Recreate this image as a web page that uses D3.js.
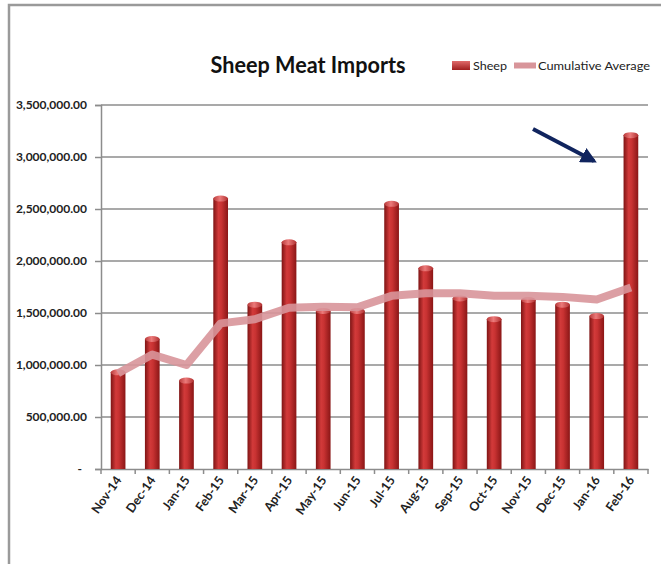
<!DOCTYPE html>
<html><head><meta charset="utf-8">
<script src="https://cdn.jsdelivr.net/npm/d3@7"></script>
<style>html,body{margin:0;padding:0;background:#fff;}svg{display:block;}</style>
</head><body>
<svg id="chart" width="661" height="564"></svg>
<script>
const categories = ["Nov-14","Dec-14","Jan-15","Feb-15","Mar-15","Apr-15","May-15","Jun-15","Jul-15","Aug-15","Sep-15","Oct-15","Nov-15","Dec-15","Jan-16","Feb-16"];
const sheep = [930000,1250000,850000,2600000,1580000,2180000,1520000,1520000,2550000,1930000,1640000,1440000,1625000,1580000,1470000,3210000];
const cumulativeAverage = [920000,1100000,1000000,1400000,1440000,1550000,1560000,1555000,1665000,1690000,1690000,1665000,1665000,1655000,1630000,1745000];
const yTicks = [0,500000,1000000,1500000,2000000,2500000,3000000,3500000];
const title = "Sheep Meat Imports";
const seriesNames = ["Sheep","Cumulative Average"];

const svg = d3.select("#chart");
const W = 661, H = 564;
const m = {left:101, right:13, top:105, bottom:95};
const x = d3.scaleBand().domain(categories).range([m.left, W - m.right]).paddingInner(0.57).paddingOuter(0.285);
const xb = d3.scaleBand().domain(categories).range([m.left, W - m.right]);
const y = d3.scaleLinear().domain([0,3500000]).range([H - m.bottom, m.top]);

const defs = svg.append("defs");
const g1 = defs.append("linearGradient").attr("id","barGrad").attr("x1","0").attr("x2","1").attr("y1","0").attr("y2","0");
[["0%","#7e1414"],["35%","#d23a3a"],["55%","#c83232"],["100%","#8a1616"]].forEach(s=>g1.append("stop").attr("offset",s[0]).attr("stop-color",s[1]));
const g2 = defs.append("linearGradient").attr("id","capGrad").attr("x1","0").attr("x2","1");
[["0%","#b83a3a"],["45%","#ec7a7a"],["100%","#b03030"]].forEach(s=>g2.append("stop").attr("offset",s[0]).attr("stop-color",s[1]));
const g3 = defs.append("linearGradient").attr("id","legGrad").attr("x1","0").attr("x2","0").attr("y1","0").attr("y2","1");
[["0%","#e06a6a"],["100%","#a01e1e"]].forEach(s=>g3.append("stop").attr("offset",s[0]).attr("stop-color",s[1]));
const mk = defs.append("marker").attr("id","arrowHead").attr("viewBox","0 0 10 10").attr("refX","8").attr("refY","5")
  .attr("markerWidth","4").attr("markerHeight","4").attr("orient","auto").attr("markerUnits","strokeWidth");
mk.append("path").attr("d","M0,0 L10,5 L0,10 z").attr("fill","#10245e");

// frame
svg.append("path").attr("d",`M9,${H} L9,5 L${W},5`).attr("fill","none").attr("stroke","#9a9a9a").attr("stroke-width",2.5);

// gridlines
svg.append("g").selectAll("line").data(yTicks.slice(1)).join("line")
  .attr("x1",m.left).attr("x2",W - m.right).attr("y1",d=>y(d)).attr("y2",d=>y(d))
  .attr("stroke","#8c8c8c").attr("stroke-width",1.5);

// y axis
const yAxis = d3.axisLeft(y).tickValues(yTicks).tickSize(6).tickPadding(8)
  .tickFormat(d => d === 0 ? "-" : d3.format(",.2f")(d));
const ya = svg.append("g").attr("transform",`translate(${m.left},0)`).call(yAxis);
ya.select(".domain").attr("stroke","#8c8c8c").attr("stroke-width",1.5);
ya.selectAll(".tick line").attr("stroke","#8c8c8c").attr("stroke-width",1.5);
ya.selectAll(".tick text").attr("font-family","Lato, 'Open Sans', sans-serif").attr("font-size",12).attr("font-weight","bold").attr("fill","#222");
ya.selectAll(".tick text").filter(d=>d===0).attr("dx",-5);

// x axis
const xAxis = d3.axisBottom(xb).tickSize(0).tickFormat("");
const xa = svg.append("g").attr("transform",`translate(0,${y(0)})`).call(xAxis);
xa.select(".domain").attr("stroke","#8c8c8c").attr("stroke-width",1.5);
const bounds = categories.map(c=>xb(c)).concat([W - m.right]);
svg.append("g").selectAll("line").data(bounds).join("line")
  .attr("x1",d=>d).attr("x2",d=>d).attr("y1",y(0)).attr("y2",y(0)+5)
  .attr("stroke","#8c8c8c").attr("stroke-width",1.5);
svg.append("g").selectAll("text").data(categories).join("text")
  .attr("transform",c=>`translate(${xb(c)+xb.bandwidth()/2+4},${y(0)+11}) rotate(-55)`)
  .attr("text-anchor","end").attr("font-family","Lato, 'Open Sans', sans-serif").attr("font-size",12.5)
  .attr("font-weight","bold").attr("fill","#222").text(c=>c);

// bars
const bars = svg.append("g");
bars.selectAll("rect").data(sheep).join("rect")
  .attr("x",(d,i)=>x(categories[i])).attr("width",x.bandwidth())
  .attr("y",d=>y(d)).attr("height",d=>y(0)-y(d)).attr("fill","url(#barGrad)");
bars.selectAll("ellipse").data(sheep).join("ellipse")
  .attr("cx",(d,i)=>x(categories[i])+x.bandwidth()/2).attr("cy",d=>y(d))
  .attr("rx",x.bandwidth()/2).attr("ry",3).attr("fill","url(#capGrad)");

// cumulative average line
const line = d3.line().x((d,i)=>xb(categories[i])+xb.bandwidth()/2).y(d=>y(d));
svg.append("path").datum(cumulativeAverage).attr("d",line).attr("fill","none")
  .attr("stroke","#d8959a").attr("stroke-opacity",0.9).attr("stroke-width",8)
  .attr("stroke-linejoin","round").attr("stroke-linecap","butt");

// title
svg.append("text").attr("x",308).attr("y",73).attr("text-anchor","middle")
  .attr("font-family","Lato, 'Open Sans', sans-serif").attr("font-weight","bold").attr("font-size",22)
  .attr("textLength",195).attr("lengthAdjust","spacingAndGlyphs").attr("fill","#111").text(title);

// legend
svg.append("rect").attr("x",452).attr("y",61).attr("width",18).attr("height",9).attr("fill","url(#legGrad)");
svg.append("text").attr("x",473).attr("y",69.5).attr("font-family","Lato, 'Open Sans', sans-serif").attr("font-size",11)
  .attr("textLength",34).attr("lengthAdjust","spacingAndGlyphs").attr("fill","#222").text(seriesNames[0]);
svg.append("line").attr("x1",514).attr("x2",536).attr("y1",65.5).attr("y2",65.5).attr("stroke","#d8959a").attr("stroke-width",6);
svg.append("text").attr("x",538).attr("y",69.5).attr("font-family","Lato, 'Open Sans', sans-serif").attr("font-size",11)
  .attr("textLength",112).attr("lengthAdjust","spacingAndGlyphs").attr("fill","#222").text(seriesNames[1]);

// annotation arrow
svg.append("line").attr("x1",533).attr("y1",129).attr("x2",594).attr("y2",161)
  .attr("stroke","#10245e").attr("stroke-width",4).attr("marker-end","url(#arrowHead)");
</script>
</body></html>
